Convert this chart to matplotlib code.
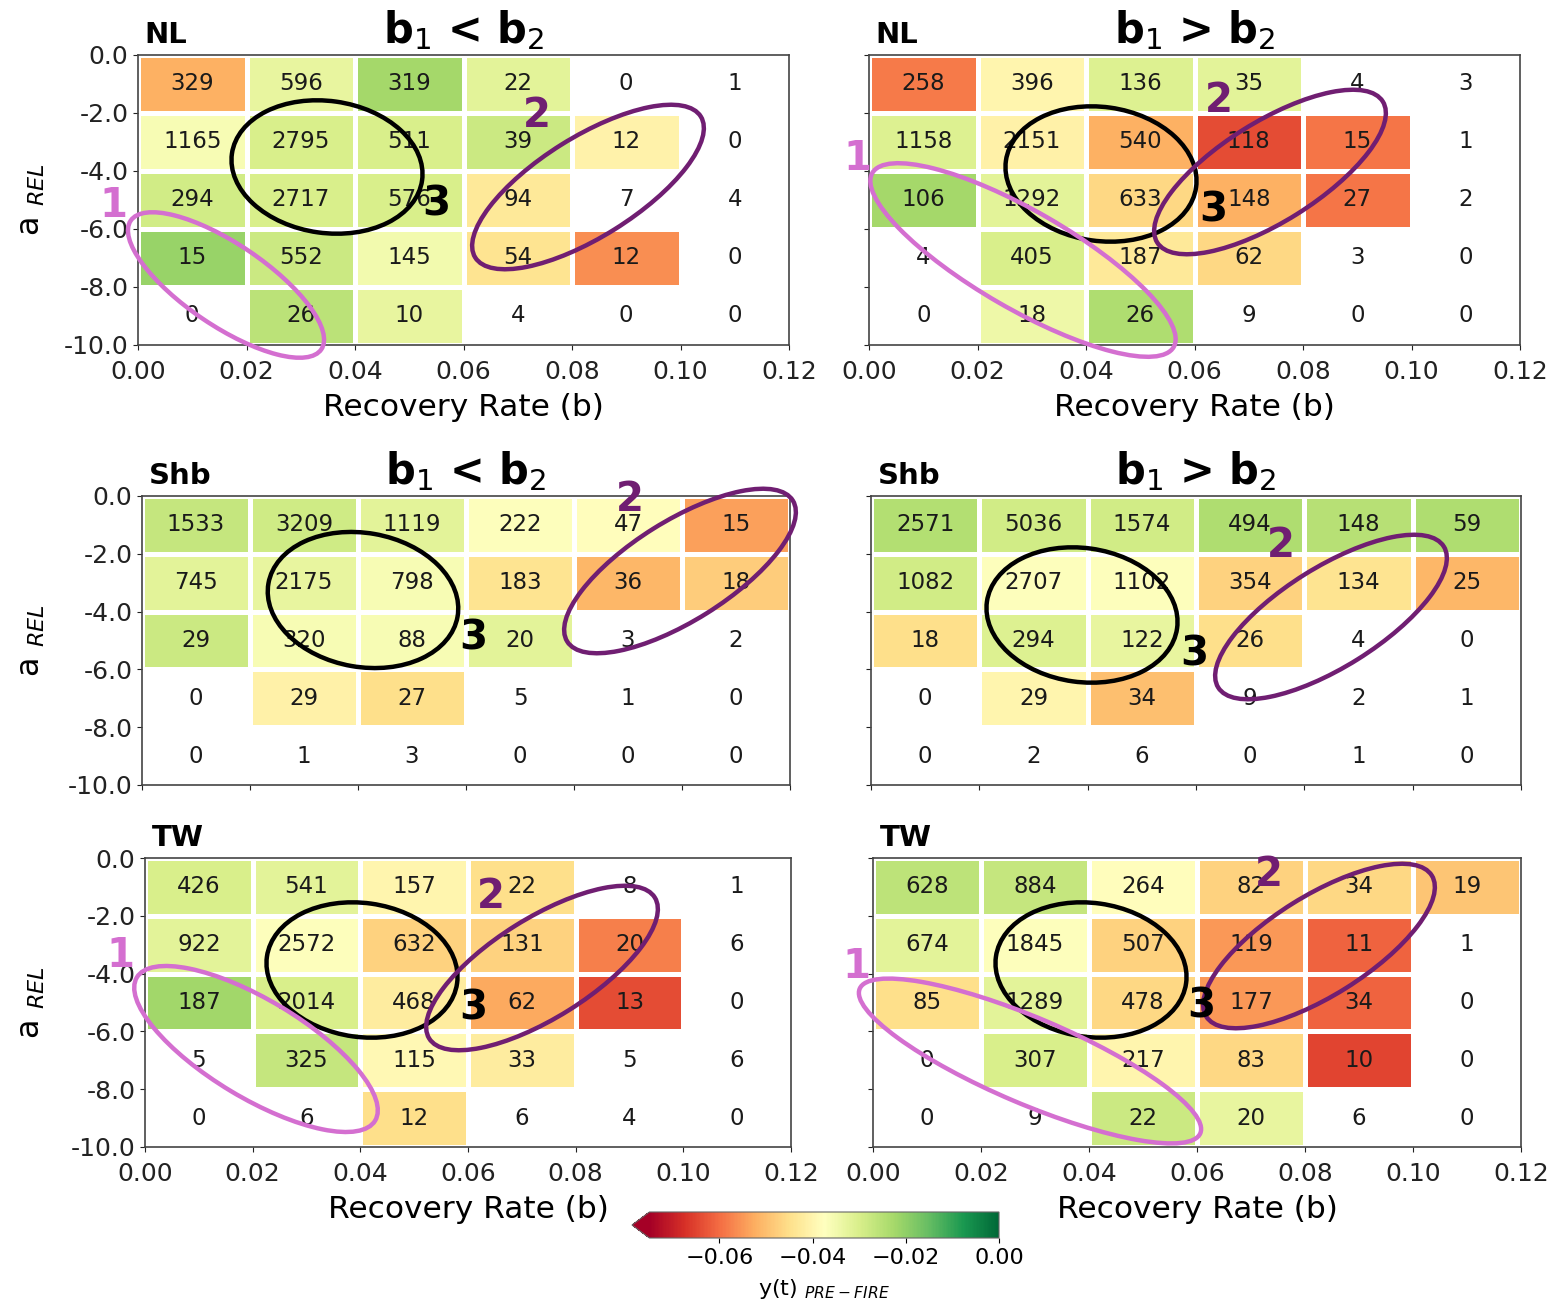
import numpy as np
import matplotlib
matplotlib.use('Agg')
import matplotlib.pyplot as plt
from matplotlib.patches import Ellipse
from matplotlib.colors import Normalize

nan = np.nan

# ---------------- data ----------------
b_edges = [0.00, 0.02, 0.04, 0.06, 0.08, 0.10, 0.12]
a_edges = [0.0, -2.0, -4.0, -6.0, -8.0, -10.0]
x_tick_labels = ['0.00', '0.02', '0.04', '0.06', '0.08', '0.10', '0.12']
y_tick_labels = ['0.0', '-2.0', '-4.0', '-6.0', '-8.0', '-10.0']
cbar_ticks = [-0.06, -0.04, -0.02, 0.00]

panel_names = ['NL', 'NL', 'Shb', 'Shb', 'TW', 'TW']
panel_titles = ['b$_1$ < b$_2$', 'b$_1$ > b$_2$', 'b$_1$ < b$_2$', 'b$_1$ > b$_2$', '', '']

counts_NL_lt = [[329, 596, 319, 22, 0, 1],
                [1165, 2795, 511, 39, 12, 0],
                [294, 2717, 576, 94, 7, 4],
                [15, 552, 145, 54, 12, 0],
                [0, 26, 10, 4, 0, 0]]
yt_NL_lt = [[-0.052, -0.033, -0.0225, -0.032, nan, nan],
            [-0.036, -0.030, -0.030, -0.028, -0.0405, nan],
            [-0.029, -0.030, -0.030, -0.043, nan, nan],
            [-0.021, -0.028, -0.035, -0.044, -0.056, nan],
            [nan, -0.0255, -0.033, nan, nan, nan]]

counts_NL_gt = [[258, 396, 136, 35, 4, 3],
                [1158, 2151, 540, 118, 15, 1],
                [106, 1292, 633, 148, 27, 2],
                [4, 405, 187, 62, 3, 0],
                [0, 18, 26, 9, 0, 0]]
yt_NL_gt = [[-0.0585, -0.040, -0.031, -0.032, nan, nan],
            [-0.031, -0.041, -0.052, -0.064, -0.059, nan],
            [-0.0225, -0.032, -0.046, -0.052, -0.059, nan],
            [nan, -0.030, -0.043, -0.046, nan, nan],
            [nan, -0.034, -0.024, nan, nan, nan]]

counts_Shb_lt = [[1533, 3209, 1119, 222, 47, 15],
                 [745, 2175, 798, 183, 36, 18],
                 [29, 320, 88, 20, 3, 2],
                 [0, 29, 27, 5, 1, 0],
                 [0, 1, 3, 0, 0, 0]]
yt_Shb_lt = [[-0.027, -0.0285, -0.032, -0.037, -0.038, -0.054],
             [-0.032, -0.033, -0.036, -0.044, -0.051, -0.048],
             [-0.028, -0.036, -0.036, -0.032, nan, nan],
             [nan, -0.041, -0.045, nan, nan, nan],
             [nan, nan, nan, nan, nan, nan]]

counts_Shb_gt = [[2571, 5036, 1574, 494, 148, 59],
                 [1082, 2707, 1102, 354, 134, 25],
                 [18, 294, 122, 26, 4, 0],
                 [0, 29, 34, 9, 2, 1],
                 [0, 2, 6, 0, 1, 0]]
yt_Shb_gt = [[-0.0245, -0.029, -0.029, -0.024, -0.025, -0.024],
             [-0.029, -0.037, -0.037, -0.047, -0.044, -0.051],
             [-0.045, -0.031, -0.033, -0.045, nan, nan],
             [nan, -0.040, -0.050, nan, nan, nan],
             [nan, nan, nan, nan, nan, nan]]

counts_TW_lt = [[426, 541, 157, 22, 8, 1],
                [922, 2572, 632, 131, 20, 6],
                [187, 2014, 468, 62, 13, 0],
                [5, 325, 115, 33, 5, 6],
                [0, 6, 12, 6, 4, 0]]
yt_TW_lt = [[-0.030, -0.032, -0.040, -0.045, nan, nan],
            [-0.032, -0.037, -0.047, -0.047, -0.058, nan],
            [-0.022, -0.030, -0.042, -0.053, -0.064, nan],
            [nan, -0.027, -0.039, -0.042, nan, nan],
            [nan, nan, -0.045, nan, nan, nan]]

counts_TW_gt = [[628, 884, 264, 82, 34, 19],
                [674, 1845, 507, 119, 11, 1],
                [85, 1289, 478, 177, 34, 0],
                [0, 307, 217, 83, 10, 0],
                [0, 9, 22, 20, 6, 0]]
yt_TW_gt = [[-0.026, -0.027, -0.038, -0.047, -0.046, -0.049],
            [-0.032, -0.037, -0.047, -0.055, -0.061, nan],
            [-0.045, -0.032, -0.046, -0.055, -0.061, nan],
            [nan, -0.030, -0.040, -0.046, -0.065, nan],
            [nan, nan, -0.028, -0.033, nan, nan]]

all_counts = [counts_NL_lt, counts_NL_gt, counts_Shb_lt, counts_Shb_gt, counts_TW_lt, counts_TW_gt]
all_yt = [yt_NL_lt, yt_NL_gt, yt_Shb_lt, yt_Shb_gt, yt_TW_lt, yt_TW_gt]

# ---------------- layout ----------------
W, H = 1550, 1305
fig = plt.figure(figsize=(W / 100, H / 100), dpi=100)
fig.patch.set_facecolor('white')


def px_rect(x0, y0, x1, y1):
    return [x0 / W, 1 - y1 / H, (x1 - x0) / W, (y1 - y0) / H]


panel_px = [(138, 55, 789, 345), (869, 55, 1520, 345),
            (142, 496, 790, 785), (871, 496, 1521, 785),
            (145, 858, 791, 1147), (873, 858, 1521, 1147)]

cmap = plt.get_cmap('RdYlGn')
norm = Normalize(vmin=-0.075, vmax=0.0)
bx = np.array(b_edges)
ay = np.array(a_edges)
bc = (bx[:-1] + bx[1:]) / 2
ac = (ay[:-1] + ay[1:]) / 2

mesh = None
for i, (rect, counts, yt) in enumerate(zip(panel_px, all_counts, all_yt)):
    ax = fig.add_axes(px_rect(*rect))
    vals = np.ma.masked_invalid(np.array(yt, dtype=float))
    mesh = ax.pcolormesh(bx, ay, vals, cmap=cmap, norm=norm,
                         edgecolors='white', linewidth=2.2)
    for r in range(len(ac)):
        for c in range(len(bc)):
            ax.text(bc[c], ac[r], str(counts[r][c]), ha='center', va='center',
                    fontsize=16.5, color='#1a1a1a')
    ax.set_xlim(b_edges[0], b_edges[-1])
    ax.set_ylim(a_edges[-1], a_edges[0])
    ax.set_xticks(b_edges)
    ax.set_yticks(a_edges)
    row, col = divmod(i, 2)
    if row == 1:
        ax.set_xticklabels([])
    else:
        ax.set_xticklabels(x_tick_labels)
        ax.set_xlabel('Recovery Rate (b)', fontsize=22.5, labelpad=6)
    if col == 1:
        ax.set_yticklabels([])
    else:
        ax.set_yticklabels(y_tick_labels)
        ax.set_ylabel('a $_{REL}$', fontsize=23)
        ax.yaxis.set_label_coords((47 - rect[0]) / (rect[2] - rect[0]), 0.5)
    ax.tick_params(labelsize=18, colors='#222222')
    ax.tick_params(axis='x', pad=7.5)
    for s in ax.spines.values():
        s.set_color('#444444')
        s.set_linewidth(1.2)
    ax.text(0.01, 1.04, panel_names[i], transform=ax.transAxes, fontsize=21,
            fontweight='bold', ha='left', va='baseline')
    if panel_titles[i]:
        ax.set_title(panel_titles[i], fontsize=30, fontweight='bold', pad=8.5)

# colorbar (axes includes room for the 'min' extension triangle)
cax = fig.add_axes(px_rect(632, 1212, 999, 1238))
cb = fig.colorbar(mesh, cax=cax, orientation='horizontal', extend='min', ticks=cbar_ticks)
cb.ax.tick_params(labelsize=16)
cb.set_label('y(t) $_{PRE-FIRE}$', fontsize=16, labelpad=7)
cb.outline.set_edgecolor('#666666')

# ---------------- hand-drawn annotations ----------------
c_black = 'black'
c_purple = '#701E72'
c_pink = '#D46FD0'

ellipses = [  # (cx, cy, w, h, angle, color) in pixels
    (327, 167, 192, 132, -8, c_black), (588, 187, 266, 100, 32, c_purple), (226, 285, 230, 82, -34, c_pink),
    (1101, 174, 192, 134, -8, c_black), (1270, 172, 266, 100, 32, c_purple), (1023, 260, 348, 98, -30, c_pink),
    (363, 600, 192, 134, -10, c_black), (680, 571, 266, 100, 32, c_purple),
    (1082, 615, 192, 134, -8, c_black), (1331, 617, 266, 100, 32, c_purple),
    (362, 970, 192, 134, -8, c_black), (542, 968, 266, 100, 32, c_purple), (256, 1049, 278, 98, -31, c_pink),
    (1091, 970, 192, 134, -8, c_black), (1319, 946, 266, 100, 32, c_purple), (1030, 1061, 370, 86, -23, c_pink),
]
for cx, cy, w, h, ang, col in ellipses:
    e = Ellipse((cx / 100, (H - cy) / 100), w / 100, h / 100, angle=ang,
                transform=fig.dpi_scale_trans, fill=False, edgecolor=col, linewidth=3.2)
    fig.add_artist(e)

labels = [  # (text, cx, cy, color)
    ('1', 113, 206, c_pink), ('2', 537, 116, c_purple), ('3', 436, 205, c_black),
    ('1', 857, 159, c_pink), ('2', 1219, 101, c_purple), ('3', 1213, 210, c_black),
    ('2', 630, 500, c_purple), ('3', 473, 639, c_black),
    ('2', 1281, 546, c_purple), ('3', 1194, 654, c_black),
    ('1', 120, 956, c_pink), ('2', 491, 897, c_purple), ('3', 473, 1008, c_black),
    ('1', 856, 967, c_pink), ('2', 1269, 875, c_purple), ('3', 1201, 1007, c_black),
]
for t, cx, cy, col in labels:
    fig.text(cx / W, 1 - cy / H, t, ha='center', va='center', fontsize=29,
             fontweight='bold', color=col)

fig.savefig('out.png', dpi=100)
